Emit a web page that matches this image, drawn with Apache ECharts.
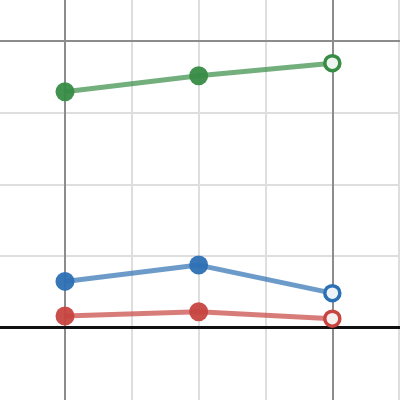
<!DOCTYPE html>
<html>
<head>
<meta charset="utf-8">
<script src="https://cdn.jsdelivr.net/npm/echarts@6/dist/echarts.min.js"></script>
<style>
html,body{margin:0;padding:0;background:#fff;}
#chart{width:400px;height:400px;}
</style>
</head>
<body>
<div id="chart"></div>
<script>
// Data
const xValues = [0, 2, 4];
const greenValues = [82.3, 87.9, 92.3];
const blueValues = [16.1, 21.8, 12.0];
const redValues = [4.0, 5.5, 3.1];
const seriesNames = ['Green', 'Blue', 'Red'];
const seriesColors = ['#388c46', '#2d70b3', '#c74440'];
const openFill = ['#eef4ef', '#eef3f8', '#f7eeee'];

// Grid line positions (data units)
const xMinorLines = [1, 2, 3, 5];
const xMajorLines = [0, 4];
const yMinorLines = [25, 50, 75];
const yMajorLines = [100];
const xRange = [-0.9726, 5.0127];
const yRange = [-25.31, 114.35];

const allValues = [greenValues, blueValues, redValues];

function buildData(vals, idx) {
  return vals.map((v, i) => {
    const item = { value: [xValues[i], v] };
    if (i === vals.length - 1) {
      item.symbolSize = 15;
      item.itemStyle = {
        color: openFill[idx],
        borderColor: seriesColors[idx],
        borderWidth: 3.5,
        opacity: 1
      };
    }
    return item;
  });
}

const minorStyle = { color: '#dedede', width: 2, type: 'solid' };
const majorStyle = { color: '#8c8c8c', width: 2, type: 'solid' };
const gridLines = []
  .concat(xMinorLines.map(v => ({ xAxis: v, lineStyle: minorStyle })))
  .concat(yMinorLines.map(v => ({ yAxis: v, lineStyle: minorStyle })))
  .concat(xMajorLines.map(v => ({ xAxis: v, lineStyle: majorStyle })))
  .concat(yMajorLines.map(v => ({ yAxis: v, lineStyle: majorStyle })))
  .concat([{ yAxis: 0, lineStyle: { color: '#111', width: 3, type: 'solid' } }]);

const chart = echarts.init(document.getElementById('chart'), null, { renderer: 'canvas' });
chart.setOption({
  animation: false,
  backgroundColor: '#ffffff',
  grid: { left: 0, right: 0, top: 0, bottom: 0, containLabel: false },
  xAxis: {
    type: 'value',
    min: xRange[0], max: xRange[1],
    axisLine: { show: false },
    axisTick: { show: false },
    axisLabel: { show: false },
    splitLine: { show: false }
  },
  yAxis: {
    type: 'value',
    min: yRange[0], max: yRange[1],
    axisLine: { show: false },
    axisTick: { show: false },
    axisLabel: { show: false },
    splitLine: { show: false }
  },
  series: [
    {
      type: 'line',
      name: 'grid',
      data: [],
      silent: true,
      z: 1,
      markLine: {
        silent: true,
        z: 1,
        symbol: ['none', 'none'],
        label: { show: false },
        emphasis: { disabled: true },
        animation: false,
        data: gridLines
      }
    }
  ].concat(allValues.map((vals, idx) => ({
    type: 'line',
    name: seriesNames[idx],
    data: buildData(vals, idx),
    symbol: 'circle',
    symbolSize: 19,
    showAllSymbol: true,
    itemStyle: { color: seriesColors[idx], opacity: 0.95 },
    lineStyle: { color: seriesColors[idx], width: 5, opacity: 0.7 },
    z: 3
  })))
});
</script>
</body>
</html>
